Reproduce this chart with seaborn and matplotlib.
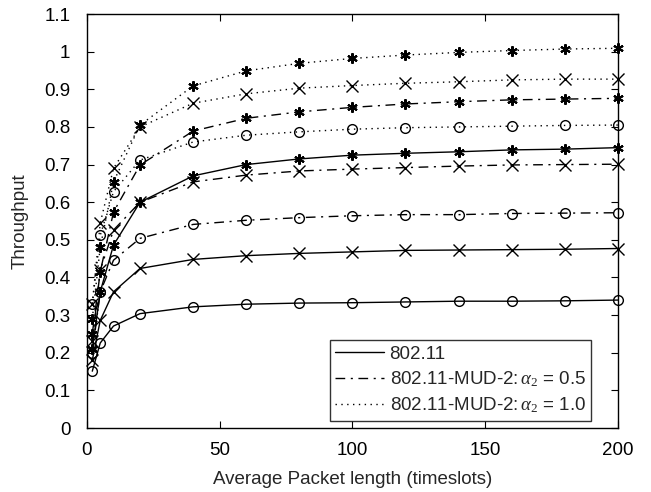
import matplotlib
matplotlib.use("Agg")
import matplotlib.pyplot as plt
import seaborn as sns
import pandas as pd
from matplotlib.lines import Line2D

# Average packet length (timeslots)
packet_len = [2, 5, 10, 20, 40, 60, 80, 100, 120, 140, 160, 180, 200]

# 802.11 (solid)
std_o = [0.151, 0.226, 0.271, 0.304, 0.322, 0.329, 0.332, 0.333, 0.335, 0.337, 0.337, 0.338, 0.340]
std_x = [0.180, 0.286, 0.362, 0.424, 0.448, 0.458, 0.464, 0.468, 0.472, 0.473, 0.474, 0.475, 0.477]
std_s = [0.210, 0.362, 0.486, 0.600, 0.670, 0.700, 0.715, 0.725, 0.730, 0.734, 0.739, 0.741, 0.745]

# 802.11-MUD-2, alpha_2 = 0.5 (dash-dot)
mud05_o = [0.200, 0.362, 0.446, 0.504, 0.541, 0.552, 0.559, 0.564, 0.567, 0.567, 0.570, 0.571, 0.572]
mud05_x = [0.230, 0.420, 0.526, 0.600, 0.654, 0.672, 0.683, 0.688, 0.692, 0.696, 0.699, 0.700, 0.701]
mud05_s = [0.250, 0.415, 0.574, 0.699, 0.789, 0.823, 0.840, 0.852, 0.861, 0.867, 0.872, 0.874, 0.876]

# 802.11-MUD-2, alpha_2 = 1.0 (dotted)
mud10_o = [0.330, 0.512, 0.628, 0.712, 0.760, 0.778, 0.787, 0.794, 0.798, 0.800, 0.802, 0.804, 0.805]
mud10_x = [0.330, 0.545, 0.690, 0.800, 0.863, 0.888, 0.903, 0.910, 0.916, 0.920, 0.925, 0.927, 0.927]
mud10_s = [0.290, 0.481, 0.654, 0.805, 0.909, 0.949, 0.969, 0.982, 0.991, 0.998, 1.003, 1.007, 1.009]

legend_labels = ["802.11",
                 r"802.11-MUD-2:$\,\alpha_2$ = 0.5",
                 r"802.11-MUD-2:$\,\alpha_2$ = 1.0"]

sns.set_style("ticks")
plt.rcParams["font.family"] = ["Liberation Sans", "DejaVu Sans"]
plt.rcParams["mathtext.fontset"] = "custom"
plt.rcParams["mathtext.rm"] = "Liberation Serif"
plt.rcParams["mathtext.it"] = "Liberation Serif:italic"

fig = plt.figure(figsize=(6.51, 4.92), dpi=100)
ax = fig.add_axes([0.1336, 0.130, 0.8154, 0.8415])

asterisk = (6, 2, 0)
marker_styles = {
    "o": dict(marker="o", markersize=7, markerfacecolor="none", markeredgewidth=1.0),
    "x": dict(marker="x", markersize=9, markeredgewidth=1.0),
    "*": dict(marker=asterisk, markersize=7.5, markeredgewidth=1.5),
}

dashdot = (0, (7, 4, 1.5, 4))
dotted = (0, (1, 3.2))

groups = [
    ("-", [("o", std_o), ("x", std_x), ("*", std_s)]),
    (dashdot, [("o", mud05_o), ("x", mud05_x), ("*", mud05_s)]),
    (dotted, [("o", mud10_o), ("x", mud10_x), ("*", mud10_s)]),
]

for ls, series in groups:
    for mk, vals in series:
        df = pd.DataFrame({"len": packet_len, "thr": vals})
        sns.lineplot(data=df, x="len", y="thr", ax=ax, color="black",
                     linewidth=1.0, linestyle=ls, clip_on=False,
                     markeredgecolor="black", **marker_styles[mk])

ax.set_xlim(0, 200)
ax.set_ylim(0, 1.1)
ax.set_xticks([0, 50, 100, 150, 200])
yt = [i / 10 for i in range(12)]
ax.set_yticks(yt)
ax.set_yticklabels(["0", "0.1", "0.2", "0.3", "0.4", "0.5", "0.6", "0.7",
                    "0.8", "0.9", "1", "1.1"])
ax.tick_params(direction="in", top=True, right=True, length=5, width=0.8,
               labelsize=13.5, colors="black")
ax.tick_params(axis="y", pad=12)
ax.tick_params(axis="x", pad=10)
for sp in ax.spines.values():
    sp.set_linewidth(1.0)
    sp.set_color("black")

ax.set_xlabel("Average Packet length (timeslots)", fontsize=13.5, labelpad=9)
ax.set_ylabel("Throughput", fontsize=13.5, labelpad=11)

handles = [
    Line2D([], [], color="black", linewidth=1.0, linestyle="-"),
    Line2D([], [], color="black", linewidth=1.0, linestyle=dashdot),
    Line2D([], [], color="black", linewidth=1.0, linestyle=dotted),
]
leg = ax.legend(handles, legend_labels, loc="lower right",
                bbox_to_anchor=(0.95, 0.017), fontsize=13.5, frameon=True,
                fancybox=False, edgecolor="black", handlelength=2.6,
                handletextpad=0.3, borderpad=0.3, labelspacing=0.35,
                borderaxespad=0.0)
leg.get_frame().set_linewidth(1.0)

fig.savefig("out.png", dpi=100)
